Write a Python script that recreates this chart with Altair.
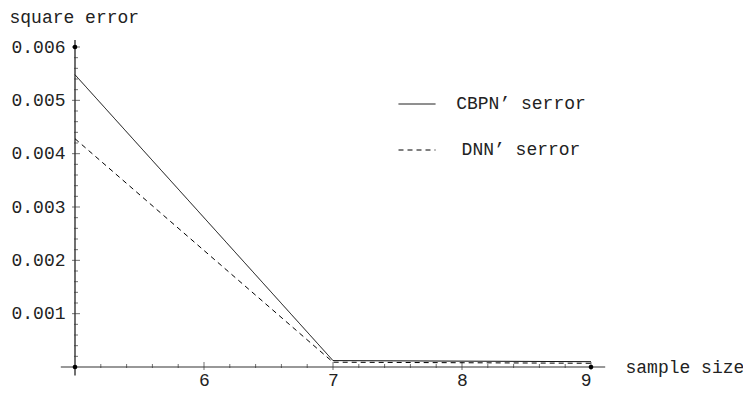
import altair as alt
import pandas as pd

sample_size = [5, 7, 9]
cbpn = [0.00548, 0.00012, 0.00010]
dnn = [0.00428, 0.00009, 0.00007]
series_names = ["CBPN\u2019 serror", "DNN\u2019 serror"]

x_major = [6, 7, 8, 9]
x_minor = [5.2, 5.4, 5.6, 5.8, 6.2, 6.4, 6.6, 6.8, 7.2, 7.4, 7.6, 7.8, 8.2, 8.4, 8.6, 8.8]
y_major = [0.001, 0.002, 0.003, 0.004, 0.005, 0.006]
y_minor = [0.0002, 0.0004, 0.0006, 0.0008, 0.0012, 0.0014, 0.0016, 0.0018,
           0.0022, 0.0024, 0.0026, 0.0028, 0.0032, 0.0034, 0.0036, 0.0038,
           0.0042, 0.0044, 0.0046, 0.0048, 0.0052, 0.0054, 0.0056, 0.0058]
dots_x = [5, 5, 9]
dots_y = [0.0, 0.006, 0.0]

FONT = "Liberation Mono"
FS = 18
TXT = "#222"

rows = []
for s, vals in zip(series_names, [cbpn, dnn]):
    for x, v in zip(sample_size, vals):
        rows.append({"x": x, "y": v, "series": s})
df = pd.DataFrame(rows)

xs = alt.Scale(domain=[5, 9], nice=False, zero=False)
ys = alt.Scale(domain=[0, 0.006], nice=False)

lines = alt.Chart(df).mark_line(strokeWidth=1, color="black").encode(
    x=alt.X("x:Q", scale=xs, axis=alt.Axis(
        values=x_major, format="d", title="sample size", domain=False, ticks=False, grid=False,
        labelFont=FONT, labelFontSize=FS, labelColor=TXT, labelPadding=4,
        titleFont=FONT, titleFontSize=FS, titleFontWeight="normal", titleColor=TXT,
        titleAnchor="end", titleAlign="left", titleBaseline="middle", titleX=550, titleY=0)),
    y=alt.Y("y:Q", scale=ys, axis=alt.Axis(
        values=y_major, format=".3f", title="square error", domain=False, ticks=False, grid=False,
        labelFont=FONT, labelFontSize=FS, labelColor=TXT, labelPadding=10,
        titleFont=FONT, titleFontSize=FS, titleFontWeight="normal", titleColor=TXT,
        titleAngle=0, titleAlign="left", titleBaseline="middle", titleX=-66, titleY=-30)),
    strokeDash=alt.StrokeDash("series:N", scale=alt.Scale(domain=series_names, range=[[1, 0], [5, 4]]),
        legend=alt.Legend(title=None, orient="none", legendX=323, legendY=38,
                          symbolType="stroke", symbolSize=1369, symbolStrokeWidth=1,
                          symbolStrokeColor="black", rowPadding=18,
                          labelFont=FONT, labelFontSize=FS, labelColor=TXT,
                          labelAlign="center", labelOffset=85, labelLimit=300)),
)

axdf = pd.DataFrame({"x": [4.89], "x2": [9.11], "y": [0.0]})
xaxis = alt.Chart(axdf).mark_rule(color="#333", strokeWidth=1.2).encode(
    x=alt.X("x:Q", scale=xs), x2="x2:Q", y=alt.Y("y:Q", scale=ys))
aydf = pd.DataFrame({"x": [5], "y": [-0.00016], "y2": [0.00613]})
yaxis = alt.Chart(aydf).mark_rule(color="#111", strokeWidth=1.2).encode(
    x=alt.X("x:Q", scale=xs), y=alt.Y("y:Q", scale=ys), y2="y2:Q")

xmaj = alt.Chart(pd.DataFrame({"x": x_major, "y": [0.0] * len(x_major)})).mark_tick(
    orient="vertical", size=8, thickness=1, color="#333", yOffset=-1).encode(
    x=alt.X("x:Q", scale=xs), y=alt.Y("y:Q", scale=ys))
xmin = alt.Chart(pd.DataFrame({"x": x_minor, "y": [0.0] * len(x_minor)})).mark_tick(
    orient="vertical", size=4, thickness=1, color="#333", yOffset=-1).encode(
    x=alt.X("x:Q", scale=xs), y=alt.Y("y:Q", scale=ys))
ymaj = alt.Chart(pd.DataFrame({"x": [5] * len(y_major), "y": y_major})).mark_tick(
    orient="horizontal", size=8, thickness=1, color="#333", xOffset=1).encode(
    x=alt.X("x:Q", scale=xs), y=alt.Y("y:Q", scale=ys))
ymin = alt.Chart(pd.DataFrame({"x": [5] * len(y_minor), "y": y_minor})).mark_tick(
    orient="horizontal", size=4, thickness=1, color="#333", xOffset=1).encode(
    x=alt.X("x:Q", scale=xs), y=alt.Y("y:Q", scale=ys))

dots = alt.Chart(pd.DataFrame({"x": dots_x, "y": dots_y})).mark_circle(
    size=22, color="black", opacity=1).encode(
    x=alt.X("x:Q", scale=xs), y=alt.Y("y:Q", scale=ys))

chart = alt.layer(xaxis, yaxis, xmin, xmaj, ymin, ymaj, lines, dots).properties(
    width=516, height=320, background="white",
    padding={"left": 67, "top": 39, "right": 152, "bottom": 23},
    autosize=alt.AutoSizeParams(type="none"),
).configure_view(strokeWidth=0, stroke=None)

chart.save("out.html", embed_options={"renderer": "svg", "actions": False})
